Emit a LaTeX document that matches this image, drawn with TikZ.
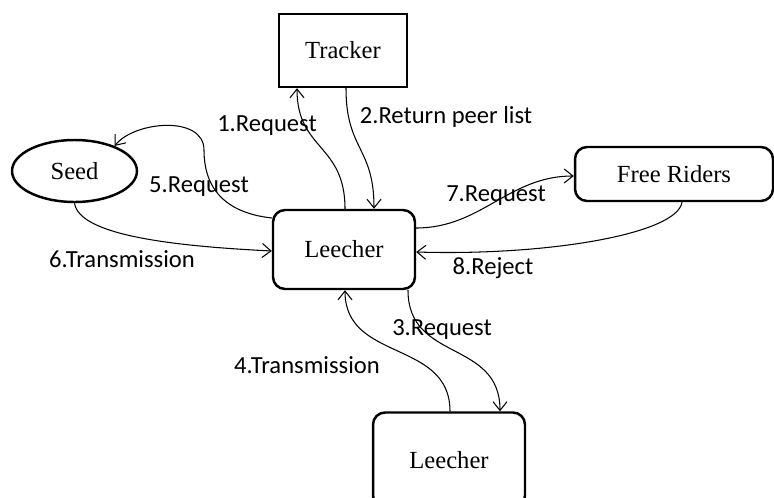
\documentclass[tikz,border=0pt]{standalone}
\usepackage{fontspec}
\setmainfont{Liberation Serif}
\newfontfamily\labelfont{Carlito}
\usetikzlibrary{arrows.meta,shapes.geometric,calc}

\begin{document}
\begin{tikzpicture}[x=0.02cm, y=-0.02cm, >={Straight Barb[length=5pt,width=8pt]}]

	\useasboundingbox (0,0) rectangle (774,497);

	% Define custom styles for peers and message labels
	\tikzstyle{server} = [rectangle, draw, line width=1.4pt, minimum width=2.56cm, minimum height=1.46cm, font=\fontsize{14}{17}\selectfont]
	\tikzstyle{peer} = [rectangle, rounded corners=0.24cm, draw, line width=1.4pt, minimum width=2.84cm, minimum height=1.58cm, font=\fontsize{14}{17}\selectfont]
	\tikzstyle{seeder} = [ellipse, draw, line width=1.4pt, inner sep=0pt, minimum width=2.5cm, minimum height=1.24cm, font=\fontsize{14}{17}\selectfont]
	\tikzstyle{msg} = [->, line width=0.6pt]
	\tikzstyle{tag} = [font=\labelfont\fontsize{14}{17}\selectfont]

	% Nodes placed around the central leecher
	\node[server] (tracker) at (343,50.5) {Tracker};
	\node[seeder] (seed) at (74.5,171) {Seed};
	\node[peer] (leecher) at (344,249.5) {Leecher};
	\node[peer, minimum width=3.96cm, minimum height=1.08cm] (riders) at (674,174) {Free Riders};
	\node[peer, minimum width=3.04cm, minimum height=1.9cm] (other) at (449,460) {Leecher};

	% Arrows between the peers
	\draw[msg] ($(leecher.north)+(1,0)$) .. controls +(0,-65) and +(0,62) .. ($(tracker.south)+(-46,0)$);
	\draw[msg] ($(tracker.south)+(3,0)$) .. controls +(0,62) and +(0,-62) .. ($(leecher.north)+(30,0)$);
	\draw[msg] ($(leecher.south)+(64,0)$) .. controls +(0,72) and +(0,-72) .. ($(other.north)+(51,0)$);
	\draw[msg] ($(other.north)+(1,0)$) .. controls +(0,-72) and +(0,72) .. ($(leecher.south)+(1,0)$);
	\draw[msg] ($(leecher.west)+(0,-31.5)$) .. controls +(-45,-5) and +(0,40) .. (204,150) .. controls +(0,-35) and +(20,-25) .. (seed.32);
	\draw[msg] (seed.south) .. controls +(5,32) and +(-100,-5) .. ($(leecher.west)+(0,1.5)$);
	\draw[msg] ($(leecher.east)+(0,-21.5)$) .. controls +(65,0) and +(-65,0) .. ($(riders.west)+(0,2)$);
	\draw[msg] ($(riders.south)+(8,0)$) .. controls +(-5,32) and +(130,4) .. ($(leecher.east)+(0,2.5)$);

	% Message labels
	\node[tag] (l1) at (267,126) {1.Request};
	\node[tag] (l2) at (446,117) {2.Return peer list};
	\node[tag] (l3) at (442,329) {3.Request};
	\node[tag] (l4) at (307,365) {4.Transmission};
	\node[tag] (l5) at (199,187) {5.Request};
	\node[tag] (l6) at (122,259) {6.Transmission};
	\node[tag] (l7) at (496,196) {7.Request};
	\node[tag] (l8) at (493,268) {8.Reject};

\end{tikzpicture}
\end{document}
